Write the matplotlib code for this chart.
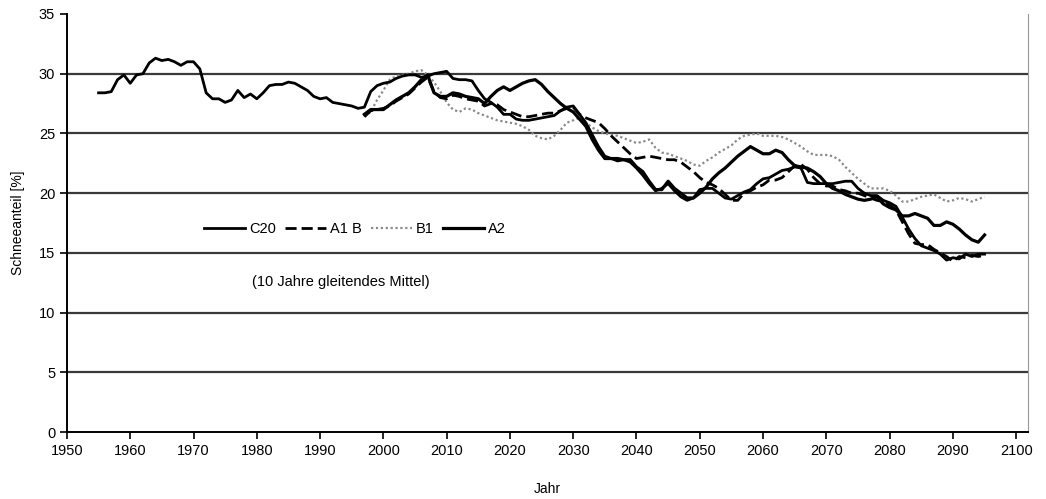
import numpy as np
from matplotlib import pyplot as plt

plt.rcParams['font.family'] = ['Liberation Sans', 'DejaVu Sans']

# Schneeanteil [%], 10 Jahre gleitendes Mittel
c20_years = np.arange(1955, 2096)
c20 = [28.4, 28.4, 28.5, 29.5, 29.9, 29.2, 29.9, 30.0, 30.9, 31.3,   # 1955
       31.1, 31.2, 31.0, 30.7, 31.0, 31.0, 30.4, 28.4, 27.9, 27.9,   # 1965
       27.6, 27.8, 28.6, 28.0, 28.3, 27.9, 28.4, 29.0, 29.1, 29.1,   # 1975
       29.3, 29.2, 28.9, 28.6, 28.1, 27.9, 28.0, 27.6, 27.5, 27.4,   # 1985
       27.3, 27.1, 27.2, 28.5, 29.0, 29.2, 29.3, 29.6, 29.8, 29.9,   # 1995
       29.9, 29.7, 29.8, 30.0, 30.1, 30.2, 29.6, 29.5, 29.5, 29.4,   # 2005
       28.6, 27.9, 27.6, 27.2, 26.6, 26.6, 26.2, 26.1, 26.1, 26.2,   # 2015
       26.3, 26.4, 26.5, 26.9, 27.2, 27.3, 26.6, 25.9, 24.9, 23.9,   # 2025
       23.1, 22.9, 22.7, 22.8, 22.6, 22.1, 21.5, 20.8, 20.2, 20.4,   # 2035
       20.8, 20.2, 19.7, 19.4, 19.6, 20.3, 20.4, 20.4, 20.0, 19.6,   # 2045
       19.5, 19.8, 20.1, 20.3, 20.8, 21.2, 21.3, 21.6, 21.9, 22.0,   # 2055
       22.2, 22.1, 20.9, 20.8, 20.8, 20.8, 20.8, 20.9, 21.0, 21.0,   # 2065
       20.4, 20.0, 19.8, 19.8, 19.4, 19.2, 18.9, 18.0, 17.0, 16.2,   # 2075
       15.6, 15.4, 15.2, 14.9, 14.4, 14.6, 14.5, 14.9, 14.7, 14.9,   # 2085
       14.9]

scen_years = np.arange(1997, 2096)
a1b = [26.4, 26.9, 27.0, 27.1, 27.3, 27.7, 28.0, 28.3, 28.8, 29.3,   # 1997
       29.7, 28.5, 28.0, 27.9, 28.2, 28.1, 27.9, 27.8, 27.7, 27.3,   # 2007
       27.5, 27.4, 27.0, 26.8, 26.6, 26.4, 26.4, 26.5, 26.6, 26.7,   # 2017
       26.7, 26.9, 27.1, 27.2, 26.6, 26.3, 26.1, 25.9, 25.4, 24.8,   # 2027
       24.3, 23.8, 23.3, 22.9, 23.0, 23.1, 23.0, 22.9, 22.8, 22.8,   # 2037
       22.6, 22.2, 21.8, 21.3, 20.9, 20.7, 20.4, 19.9, 19.4, 19.4,   # 2047
       20.0, 20.2, 20.5, 20.7, 21.1, 21.1, 21.3, 21.8, 22.3, 22.4,   # 2057
       22.0, 21.3, 20.8, 20.6, 20.6, 20.3, 20.2, 20.0, 20.0, 19.8,   # 2067
       19.6, 19.4, 19.3, 19.0, 18.6, 17.6, 16.6, 15.8, 15.7, 15.7,   # 2077
       15.3, 15.0, 14.7, 14.3, 14.7, 14.6, 14.8, 14.7, 14.8]         # 2087

b1 = [26.4, 26.8, 27.8, 28.6, 29.5, 29.8, 29.9, 30.0, 30.2, 30.3,    # 1997
      29.9, 29.3, 28.5, 27.6, 27.0, 26.8, 27.1, 27.0, 26.7, 26.5,    # 2007
      26.3, 26.1, 26.0, 25.9, 25.8, 25.6, 25.3, 24.8, 24.6, 24.5,    # 2017
      24.8, 25.3, 25.9, 26.1, 26.3, 25.9, 25.5, 25.2, 25.0, 24.9,    # 2027
      24.8, 24.6, 24.4, 24.2, 24.3, 24.5, 23.8, 23.4, 23.3, 23.1,    # 2037
      22.9, 22.7, 22.4, 22.3, 22.7, 23.0, 23.4, 23.7, 24.0, 24.5,    # 2047
      24.8, 24.9, 25.0, 24.8, 24.8, 24.8, 24.7, 24.5, 24.2, 23.9,    # 2057
      23.5, 23.2, 23.2, 23.2, 23.1, 22.8, 22.2, 21.7, 21.2, 20.8,    # 2067
      20.4, 20.4, 20.4, 20.2, 19.8, 19.3, 19.3, 19.5, 19.7, 19.8,    # 2077
      19.9, 19.6, 19.3, 19.4, 19.6, 19.5, 19.3, 19.5, 19.7]          # 2087

a2 = [26.6, 27.0, 27.0, 27.0, 27.4, 27.8, 28.1, 28.4, 28.9, 29.5,    # 1997
      29.9, 28.4, 28.1, 28.1, 28.4, 28.3, 28.1, 28.0, 27.9, 27.5,    # 2007
      28.1, 28.6, 28.9, 28.6, 28.9, 29.2, 29.4, 29.5, 29.1, 28.5,    # 2017
      28.0, 27.5, 27.1, 26.8, 26.2, 25.6, 24.5, 23.6, 22.9, 22.9,    # 2027
      22.9, 22.8, 22.8, 22.2, 21.8, 21.0, 20.3, 20.3, 21.0, 20.4,    # 2037
      20.0, 19.6, 19.6, 20.0, 20.5, 21.2, 21.7, 22.1, 22.6, 23.1,    # 2047
      23.5, 23.9, 23.6, 23.3, 23.3, 23.6, 23.4, 22.8, 22.3, 22.2,    # 2057
      22.1, 21.8, 21.4, 20.8, 20.4, 20.2, 19.9, 19.7, 19.5, 19.4,    # 2067
      19.5, 19.7, 19.1, 18.8, 18.6, 18.1, 18.1, 18.3, 18.1, 17.9,    # 2077
      17.3, 17.3, 17.6, 17.4, 17.0, 16.5, 16.1, 15.9, 16.5]          # 2087

x_ticks = np.arange(1950, 2101, 10)
y_ticks = np.arange(0, 36, 5)

fig = plt.figure(figsize=(10.46, 4.99), dpi=100)
ax = fig.add_axes([0.064, 0.134, 0.919, 0.838])

for y in y_ticks[1:-1]:
    ax.axhline(y, color='#3a3a3a', lw=1.6, zorder=1)

ax.plot(c20_years, c20, color='black', lw=2.0, label='C20', zorder=3)
ax.plot(scen_years, a1b, color='black', lw=2.0, dashes=(4, 1.8), label='A1 B', zorder=3)
ax.plot(scen_years, b1, color='#8a8a8a', lw=1.6, dashes=(1, 1.2), label='B1', zorder=2)
ax.plot(scen_years, a2, color='black', lw=2.3, label='A2', zorder=3)

ax.set_xlim(1950, 2101.9)
ax.set_ylim(0, 35)
ax.set_xticks(x_ticks)
ax.set_yticks(y_ticks)
ax.tick_params(direction='out', length=5, width=1.2, labelsize=10.5, colors='black')

ax.spines['top'].set_visible(False)
ax.spines['right'].set_color('#999999')
ax.spines['left'].set_linewidth(1.4)
ax.spines['bottom'].set_linewidth(1.4)

ax.set_xlabel('Jahr', fontsize=10, labelpad=17)
ax.set_ylabel('Schneeanteil [%]', fontsize=10, labelpad=10)

leg = ax.legend(loc='center left', bbox_to_anchor=(0.143, 0.486), ncol=4, frameon=False,
                fontsize=10.5, handlelength=2.8, handletextpad=0.3, columnspacing=0.6,
                borderpad=0, borderaxespad=0)
ax.text(1979.2, 12.6, '(10 Jahre gleitendes Mittel)', fontsize=10.5, ha='left', va='center')

plt.savefig('out.png', dpi=100)
